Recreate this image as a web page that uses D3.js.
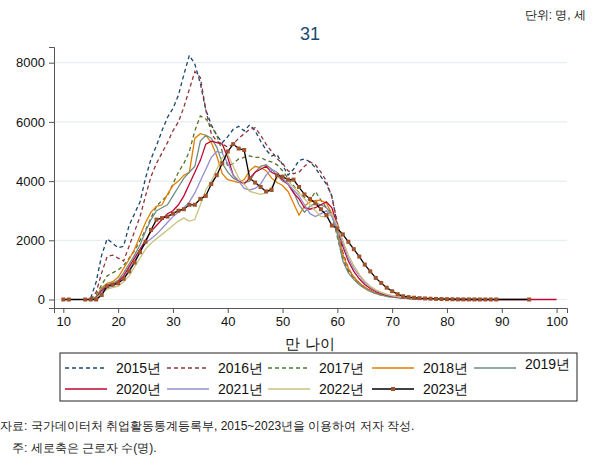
<!DOCTYPE html>
<html>
<head>
<meta charset="utf-8">
<style>
  body { margin: 0; background: #fff; }
  svg { font-family: "Liberation Sans", Arial, sans-serif; }
</style>
</head>
<body>
<svg width="600" height="468"></svg>
<script src="https://cdn.jsdelivr.net/npm/d3@7/dist/d3.min.js"></script>
<script>

// ages (만 나이) — series 2015~2022 start at 15, 2023 starts at 10
var startAge = [15, 15, 15, 15, 15, 15, 15, 15, 10];
var years = ["2015년", "2016년", "2017년", "2018년", "2019년", "2020년", "2021년", "2022년", "2023년"];

var v2015 = [50, 600, 1500, 2050, 1900, 1750, 1800, 2500, 2900, 3300, 4100, 4750, 5200, 5700, 6150, 6450, 6900, 7600, 8250, 7950,
  7300, 6400, 5900, 5550, 5300, 5500, 5750, 5850, 5700, 5900, 5700, 5350, 5050, 4850, 4900, 4550, 4200, 4400, 4700, 4750,
  4650, 4450, 4150, 3900, 3500, 2500, 1500, 1000, 720, 530, 400, 300, 220, 160, 120, 90, 65, 50, 35, 25,
  18, 12, 8, 6, 4, 3, 2, 1, 1, 0, 0];
var v2016 = [0, 250, 900, 1450, 1500, 1400, 1300, 1800, 2300, 2800, 3500, 4150, 4600, 4950, 5300, 5700, 6000, 6500, 7100, 7700,
  7500, 6400, 5600, 5350, 5250, 5150, 5250, 5450, 5600, 5750, 5800, 5550, 5250, 5000, 4750, 4600, 4350, 4250, 4300, 4500,
  4650, 4550, 4300, 4000, 3450, 2600, 1600, 1050, 760, 560, 420, 310, 230, 170, 125, 95, 70, 52, 38, 27,
  20, 14, 9, 6, 4, 3, 2, 1, 1, 0, 0];
var v2017 = [0, 150, 500, 800, 900, 1000, 1150, 1400, 1650, 2000, 2350, 2750, 3150, 3350, 3500, 3900, 4300, 4600, 5000, 5700,
  6200, 6100, 5850, 5550, 5000, 4500, 4600, 4750, 4800, 4850, 4800, 4800, 4700, 4650, 4550, 4350, 4100, 3850, 3600, 3450,
  3350, 3650, 3350, 3100, 2900, 2100, 1350, 950, 700, 520, 380, 280, 210, 150, 110, 80, 60, 44, 32, 23,
  16, 11, 7, 5, 3, 2, 1, 1, 0, 0, 0];
var v2018 = [0, 100, 400, 550, 600, 750, 1050, 1350, 1700, 2150, 2600, 2950, 3150, 3200, 3550, 3850, 4000, 4200, 4300, 5450,
  5600, 5550, 5300, 4850, 4250, 4050, 4000, 3950, 4050, 4350, 4500, 4450, 4350, 4100, 3950, 3850, 3650, 3250, 2850, 3150,
  3300, 3350, 3350, 3250, 2900, 2300, 1500, 1050, 760, 560, 410, 300, 220, 160, 120, 90, 65, 48, 35, 25,
  18, 12, 8, 5, 3, 2, 1, 1, 0, 0, 0, 0];
var v2019 = [0, 80, 350, 500, 550, 650, 900, 1200, 1500, 1850, 2300, 2700, 3000, 3100, 3200, 3500, 3800, 4100, 4300, 4500,
  5350, 5550, 5450, 5150, 4600, 4300, 4100, 4000, 3950, 4000, 4300, 4500, 4550, 4400, 4200, 4000, 3900, 3650, 3200, 2950,
  3150, 3250, 3200, 3100, 2850, 2200, 1300, 900, 680, 500, 370, 270, 200, 150, 110, 82, 60, 45, 33, 24,
  17, 12, 8, 5, 3, 2, 1, 1, 0, 0, 0, 0];
var v2020 = [0, 50, 300, 450, 500, 600, 800, 1100, 1400, 1700, 2000, 2300, 2500, 2700, 2900, 3000, 3200, 3500, 3900, 4300,
  4700, 5250, 5350, 5300, 5250, 4800, 4200, 4000, 3900, 4100, 4300, 4400, 4500, 4300, 4200, 4050, 3900, 3600, 3400, 3100,
  3050, 3100, 3200, 3300, 3100, 2500, 1800, 1300, 950, 700, 510, 370, 270, 200, 145, 105, 78, 57, 42, 30,
  22, 15, 10, 7, 5, 3, 2, 1, 1, 0, 0, 0, 0, 0, 0, 0, 0, 0, 0, 0, 0, 0, 0, 0, 0, 0];
var v2021 = [0, 30, 250, 400, 450, 550, 700, 1000, 1300, 1650, 1900, 2050, 2200, 2400, 2600, 2800, 2950, 3100, 3300, 3600,
  4000, 4400, 4800, 5000, 4950, 4600, 4200, 4000, 3750, 3700, 3750, 3900, 4200, 4400, 4300, 4100, 3900, 3700, 3500, 3200,
  2900, 2800, 2900, 3000, 2800, 2400, 1900, 1400, 1050, 800, 580, 420, 310, 230, 170, 125, 92, 68, 50, 36,
  26, 18, 12, 8, 5, 3, 2, 1, 1, 0, 0, 0];
var v2022 = [0, 20, 200, 350, 400, 450, 600, 800, 1100, 1400, 1700, 1900, 2050, 2200, 2350, 2500, 2650, 2750, 2650, 2700,
  3200, 3700, 4000, 4400, 4800, 4900, 4500, 4100, 3900, 3650, 3600, 3550, 3600, 3800, 4100, 4200, 4000, 3800, 3600, 3400,
  3200, 3000, 2800, 2800, 2900, 2500, 2000, 1500, 1150, 850, 620, 450, 330, 240, 175, 130, 95, 70, 52, 38,
  28, 20, 14, 9, 6, 4, 2, 1, 1, 0, 0, 0];
var v2023 = [0, 0, null, null, 0, 0, 0, 150, 450, 500, 550, 700, 950, 1250, 1600, 1950, 2350, 2700, 2750, 2800,
  2900, 3000, 3050, 3200, 3200, 3400, 3500, 3900, 4200, 4600, 5000, 5250, 5100, 5050, 4100, 3950, 3800, 3650, 3700, 4200,
  4150, 4050, 4050, 3800, 3550, 3400, 3250, 3050, 2850, 2500, 2400, 2200, 1950, 1700, 1450, 1180, 950, 730, 560, 400,
  280, 180, 110, 80, 60, 45, 35, 27, 20, 15, 11, 8, 6, 4, 3, 2, 1, 1, 1, 1,
  null, null, null, null, null, 0];

var values = [v2015, v2016, v2017, v2018, v2019, v2020, v2021, v2022, v2023];
var colors = ["#1a476f", "#90353b", "#55752f", "#e37e00", "#6e8e84", "#c10534", "#938dd2", "#cac27e", "#000000"];
var dashed = [true, true, true, false, false, false, false, false, false];

var xTicks = [10, 20, 30, 40, 50, 60, 70, 80, 90, 100];
var yTicks = [0, 2000, 4000, 6000, 8000];

var svg = d3.select("svg");

var x = d3.scaleLinear().domain([8.3, 101.9]).range([54, 567]);
var y = d3.scaleLinear().domain([-287, 8530]).range([308, 47]);

var series = values.map(function(vals, i) {
  var pts = [];
  vals.forEach(function(v, j) {
    if (v !== null) pts.push({age: startAge[i] + j, value: v});
  });
  return {name: years[i], color: colors[i], dashed: dashed[i], points: pts};
});

// gridlines
svg.append("g")
  .selectAll("line")
  .data(yTicks)
  .join("line")
    .attr("x1", 54).attr("x2", 567)
    .attr("y1", function(d) { return y(d); })
    .attr("y2", function(d) { return y(d); })
    .attr("stroke", "#e6eef1")
    .attr("stroke-width", 1.2);

// axes
var gx = svg.append("g")
    .attr("transform", "translate(0,308)")
    .call(d3.axisBottom(x).tickValues(xTicks).tickSizeOuter(0).tickSize(5).tickPadding(4));
var gy = svg.append("g")
    .attr("transform", "translate(54,0)")
    .call(d3.axisLeft(y).tickValues(yTicks).tickSizeOuter(0).tickSize(5).tickPadding(4).tickFormat(d3.format("d")));

[gx, gy].forEach(function(g) {
  g.select(".domain").attr("stroke", "#555");
  g.selectAll(".tick line").attr("stroke", "#555");
  g.selectAll(".tick text").attr("font-size", 13).attr("fill", "#111")
    .attr("font-family", "'Liberation Sans', Arial, sans-serif");
});

// lines
var line = d3.line()
    .x(function(d) { return x(d.age); })
    .y(function(d) { return y(d.value); });

svg.append("g")
  .selectAll("path")
  .data(series)
  .join("path")
    .attr("fill", "none")
    .attr("stroke", function(d) { return d.color; })
    .attr("stroke-width", 1.3)
    .attr("stroke-dasharray", function(d) { return d.dashed ? "4,3" : null; })
    .attr("d", function(d) { return line(d.points); });

// 2023 markers
svg.append("g")
  .selectAll("rect")
  .data(series[8].points)
  .join("rect")
    .attr("x", function(d) { return x(d.age) - 2; })
    .attr("y", function(d) { return y(d.value) - 2; })
    .attr("width", 4)
    .attr("height", 4)
    .attr("fill", "#a0522d");

// titles
svg.append("text")
  .attr("x", 310).attr("y", 40)
  .attr("text-anchor", "middle")
  .attr("font-size", 18)
  .attr("fill", "#1a476f")
  .text("31");

svg.append("text")
  .attr("x", 586).attr("y", 19)
  .attr("text-anchor", "end")
  .attr("font-size", 12)
  .attr("fill", "#222")
  .text("단위: 명, 세");

svg.append("text")
  .attr("x", 310).attr("y", 349)
  .attr("text-anchor", "middle")
  .attr("font-size", 15)
  .attr("fill", "#111")
  .text("만 나이");

// legend
var legend = svg.append("g");
legend.append("rect")
  .attr("x", 60).attr("y", 353)
  .attr("width", 517).attr("height", 48)
  .attr("fill", "none")
  .attr("stroke", "#222")
  .attr("stroke-width", 1);

var colX = [65, 167, 268, 372, 474];
var rowY = [368, 389];

var items = legend.selectAll("g.item")
  .data(series)
  .join("g")
    .attr("class", "item")
    .attr("transform", function(d, i) {
      var cx = colX[i % 5], cy = rowY[Math.floor(i / 5)];
      return "translate(" + cx + "," + (i === 4 ? cy - 4 : cy) + ")";
    });

items.append("line")
  .attr("x1", 0).attr("x2", 42)
  .attr("y1", function(d, i) { return i === 4 ? 4 : 0; })
  .attr("y2", function(d, i) { return i === 4 ? 4 : 0; })
  .attr("stroke", function(d) { return d.color; })
  .attr("stroke-width", 1.3)
  .attr("stroke-dasharray", function(d) { return d.dashed ? "4,3" : null; });

items.filter(function(d, i) { return i === 8; })
  .append("rect")
  .attr("x", 19).attr("y", -2)
  .attr("width", 4).attr("height", 4)
  .attr("fill", "#a0522d");

items.append("text")
  .attr("x", 51).attr("y", 5)
  .attr("font-size", 14)
  .attr("fill", "#111")
  .text(function(d) { return d.name; });

// notes
svg.append("text")
  .attr("x", 0).attr("y", 430)
  .attr("font-size", 12)
  .attr("fill", "#222")
  .text("자료: 국가데이터처 취업활동통계등록부, 2015~2023년을 이용하여 저자 작성.");
svg.append("text")
  .attr("x", 12).attr("y", 452)
  .attr("font-size", 12)
  .attr("fill", "#222")
  .text("주: 세로축은 근로자 수(명).");

</script>
</body>
</html>
